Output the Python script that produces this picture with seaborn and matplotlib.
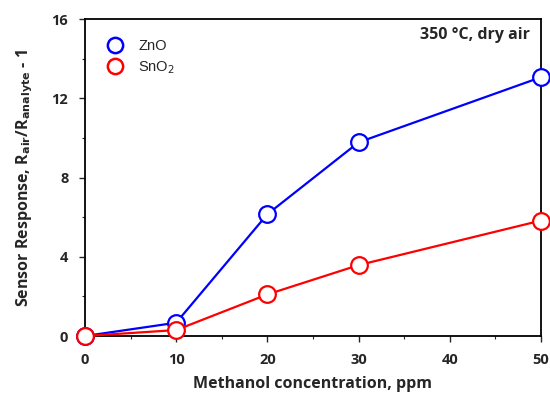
import matplotlib
matplotlib.use("Agg")
import matplotlib.pyplot as plt
import seaborn as sns
import pandas as pd
from matplotlib.lines import Line2D
from matplotlib.ticker import MultipleLocator

conc = [0, 10, 20, 30, 50]
zno = [0.0, 0.67, 6.15, 9.78, 13.07]
sno2 = [0.0, 0.3, 2.1, 3.58, 5.83]
series = ["ZnO", "SnO$_2$"]
colors = ["#0000ff", "#ff0000"]
x_ticks = [0, 10, 20, 30, 40, 50]
y_ticks = [0, 4, 8, 12, 16]

df = pd.DataFrame({
    "conc": conc * 2,
    "resp": zno + sno2,
    "mat": [series[0]] * len(conc) + [series[1]] * len(conc),
})

sns.set_style("ticks")
plt.rcParams['font.family'] = ['Open Sans', 'DejaVu Sans']

fig = plt.figure(figsize=(5.5, 3.94), dpi=100)
ax = fig.add_axes([0.1545, 0.1472, 0.829, 0.804])

sns.lineplot(data=df, x="conc", y="resp", hue="mat", palette=colors,
             marker="o", markersize=12, markerfacecolor="white",
             markeredgewidth=1.6, linewidth=1.6, ax=ax, legend=False,
             clip_on=False, zorder=3)
for ln, c in zip(ax.lines, colors):
    ln.set_markeredgecolor(c)
    ln.set_clip_on(False)

ax.set_xlim(0, 50)
ax.set_ylim(0, 16)
ax.set_xticks(x_ticks)
ax.set_yticks(y_ticks)
ax.xaxis.set_minor_locator(MultipleLocator(5))
ax.yaxis.set_minor_locator(MultipleLocator(2))
ax.tick_params(axis="both", which="major", direction="out", length=4, width=1,
               labelsize=10.5, pad=8)
ax.tick_params(axis="both", which="minor", direction="out", length=2.5, width=0.8)
for lab in ax.get_xticklabels() + ax.get_yticklabels():
    lab.set_fontweight("bold")
for s in ax.spines.values():
    s.set_linewidth(1.3)
    s.set_color("black")

ax.set_xlabel("Methanol concentration, ppm", fontsize=11.5, fontweight="bold", labelpad=7)
ax.set_ylabel("Sensor Response, R$_{\\mathbf{air}}$/R$_{\\mathbf{analyte}}$ - 1",
              fontsize=11.5, fontweight="bold", labelpad=12)

ax.text(0.977, 0.975, "350 °C, dry air", transform=ax.transAxes, ha="right", va="top",
        fontsize=11.5, fontweight="bold")

handles = [Line2D([], [], linestyle="none", marker="o", markersize=11,
                  markerfacecolor="white", markeredgecolor=c, markeredgewidth=1.8)
           for c in colors]
leg = ax.legend(handles, series, loc="upper left", bbox_to_anchor=(0.005, 0.98),
                frameon=False, handletextpad=0.6, labelspacing=0.45,
                prop={"family": "Liberation Sans", "size": 10.5})

fig.savefig("out.png", dpi=100)
